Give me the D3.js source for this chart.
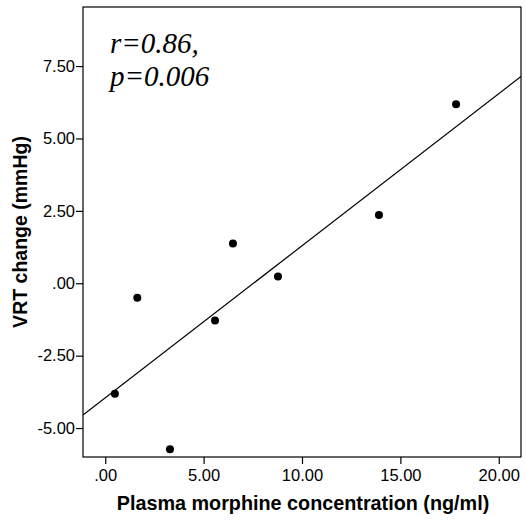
<!DOCTYPE html>
<html>
<head>
<meta charset="utf-8">
<script src="https://cdn.jsdelivr.net/npm/d3@7"></script>
<style>
  html, body { margin: 0; padding: 0; background: #fff; }
  svg { display: block; }
</style>
</head>
<body>
<div id="chart"></div>
<script>
// Data
const morphine = [0.49, 1.63, 3.29, 5.58, 6.49, 8.78, 13.91, 17.83];
const vrtChange = [-3.82, -0.50, -5.73, -1.29, 1.37, 0.23, 2.36, 6.18];
const xTicks = [0, 5, 10, 15, 20];
const yTicks = [-5, -2.5, 0, 2.5, 5, 7.5];
const statLines = ["r=0.86,", "p=0.006"];
const xLabel = "Plasma morphine concentration (ng/ml)";
const yLabel = "VRT change (mmHg)";

const W = 526, H = 524;
const margin = { top: 7, right: 5, bottom: 67, left: 83 };
const iw = W - margin.left - margin.right;
const ih = H - margin.top - margin.bottom;

const svg = d3.select("#chart").append("svg").attr("width", W).attr("height", H);
const g = svg.append("g").attr("transform", `translate(${margin.left},${margin.top})`);

const x = d3.scaleLinear().domain([-1.13, 21.13]).range([0, iw]);
const y = d3.scaleLinear().domain([-6.0, 9.54]).range([ih, 0]);

const fmt = v => {
  let s = Math.abs(v).toFixed(2);
  if (s === "0.00") return ".00";
  return (v < 0 ? "-" : "") + s;
};

// Axes
const xAxis = g.append("g").attr("transform", `translate(0,${ih})`)
  .call(d3.axisBottom(x).tickValues(xTicks).tickFormat(fmt).tickSize(7).tickPadding(5));
const yAxis = g.append("g")
  .call(d3.axisLeft(y).tickValues(yTicks).tickFormat(fmt).tickSize(7).tickPadding(1));
[xAxis, yAxis].forEach(a => {
  a.select(".domain").remove();
  a.selectAll("line").attr("stroke", "#000").attr("stroke-width", 1.2);
  a.selectAll("text").attr("font-family", "Arial, 'Liberation Sans', sans-serif")
    .attr("font-size", 16.5).attr("fill", "#000");
});

// Frame
g.append("rect").attr("x", 0).attr("y", 0).attr("width", iw).attr("height", ih)
  .attr("fill", "none").attr("stroke", "#000").attr("stroke-width", 1.2);

// Regression line (least squares from data)
const mx = d3.mean(morphine), my = d3.mean(vrtChange);
let sxy = 0, sxx = 0;
morphine.forEach((xv, i) => { sxy += (xv - mx) * (vrtChange[i] - my); sxx += (xv - mx) ** 2; });
const slope = sxy / sxx, intercept = my - slope * mx;
const [x0, x1] = x.domain();

svg.append("clipPath").attr("id", "clip").append("rect")
  .attr("width", iw).attr("height", ih);
g.append("line").attr("clip-path", "url(#clip)")
  .attr("x1", x(x0)).attr("y1", y(intercept + slope * x0))
  .attr("x2", x(x1)).attr("y2", y(intercept + slope * x1))
  .attr("stroke", "#000").attr("stroke-width", 1.2);

// Points
g.selectAll("circle.pt").data(morphine.map((v, i) => [v, vrtChange[i]]))
  .enter().append("circle").attr("class", "pt")
  .attr("cx", d => x(d[0])).attr("cy", d => y(d[1])).attr("r", 4).attr("fill", "#000");

// Stat text
const st = svg.append("text")
  .attr("font-family", "'Liberation Serif', 'Times New Roman', serif")
  .attr("font-style", "italic").attr("font-size", 29).attr("fill", "#000");
statLines.forEach((s, i) => {
  st.append("tspan").attr("x", 110).attr("y", 53 + i * 33).text(s);
});

// Axis labels
svg.append("text").attr("x", 303).attr("y", 510)
  .attr("text-anchor", "middle")
  .attr("font-family", "Arial, 'Liberation Sans', sans-serif")
  .attr("font-weight", "bold").attr("font-size", 19.8).attr("fill", "#000")
  .text(xLabel);
svg.append("text").attr("transform", `translate(27,${margin.top + ih / 2}) rotate(-90)`)
  .attr("text-anchor", "middle")
  .attr("font-family", "Arial, 'Liberation Sans', sans-serif")
  .attr("font-weight", "bold").attr("font-size", 19.5).attr("fill", "#000")
  .text(yLabel);
</script>
</body>
</html>
